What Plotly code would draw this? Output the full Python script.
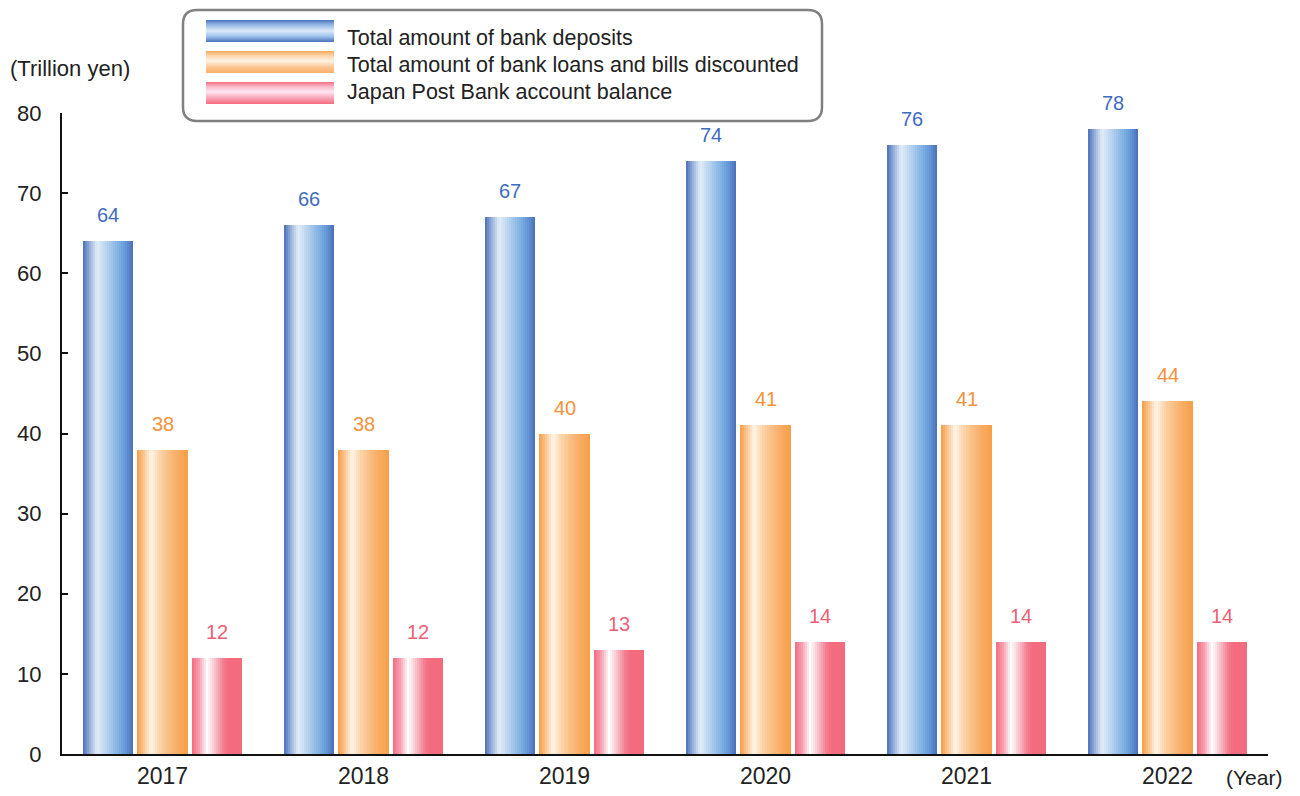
import plotly.graph_objects as go

# ---------------- data ----------------
years = ["2017", "2018", "2019", "2020", "2021", "2022"]
deposits = [64, 66, 67, 74, 76, 78]
loans = [38, 38, 40, 41, 41, 44]
postbank = [12, 12, 13, 14, 14, 14]
series_names = [
    "Total amount of bank deposits",
    "Total amount of bank loans and bills discounted",
    "Japan Post Bank account balance",
]
y_ticks = [0, 10, 20, 30, 40, 50, 60, 70, 80]

# ---------------- style ----------------
FONT = "Liberation Sans, Arial, sans-serif"
TXT = "#222222"
label_colors = ["#3F6BBE", "#F5913A", "#EE5F76"]
gradients = [
    [(0.0, "#4A6EB9"), (0.12, "#8EA9D6"), (0.28, "#E2EDF8"), (0.45, "#BCD5F0"),
     (0.70, "#80B2E3"), (0.86, "#6295D5"), (1.0, "#4A6EB9")],
    [(0.0, "#F79C45"), (0.13, "#FBC48D"), (0.28, "#FFF4E8"), (0.50, "#FBCB9A"),
     (0.75, "#F9B06A"), (1.0, "#F79D47")],
    [(0.0, "#F36B80"), (0.15, "#F7A2B1"), (0.30, "#FFFFFF"), (0.45, "#F9C6CF"),
     (0.62, "#F37F92"), (0.72, "#F36B7F"), (1.0, "#F36B7F")],
]
legend_gradients = [
    [(0.0, "#4A70BE"), (0.2, "#8FB3E3"), (0.5, "#DCEAF8"), (0.75, "#9CC0EA"), (1.0, "#4A70BE")],
    [(0.0, "#F9A85A"), (0.2, "#FCD2A8"), (0.45, "#FFF3E6"), (0.75, "#FCC48E"), (1.0, "#F9AE66")],
    [(0.0, "#F36B80"), (0.2, "#F9B6C6"), (0.45, "#FFE6F2"), (0.75, "#F7A0B2"), (1.0, "#F36B80")],
]
bar_w = 0.25
offsets = [-0.395, -0.125, 0.145]
N = 25

# the page body has an 8px margin; size the figure so it fits the window
OFF = 8
W, H = 1300 - OFF, 796 - OFF
ML, MR, MT, MB = 62 - OFF, 32, 113 - OFF, 42
PW, PH = W - ML - MR, H - MT - MB


def hex2rgb(h):
    h = h.lstrip("#")
    return tuple(int(h[i:i + 2], 16) for i in (0, 2, 4))


def grad(stops, t):
    for (p0, c0), (p1, c1) in zip(stops[:-1], stops[1:]):
        if p0 <= t <= p1:
            f = 0 if p1 == p0 else (t - p0) / (p1 - p0)
            a, b = hex2rgb(c0), hex2rgb(c1)
            r = [round(a[k] + (b[k] - a[k]) * f) for k in range(3)]
            return "rgb(%d,%d,%d)" % tuple(r)
    return stops[-1][1]


def px_x(p):  # window pixel -> paper x
    return (p - OFF - ML) / PW


def px_y(p):  # window pixel -> paper y
    return (OFF + H - MB - p) / PH


fig = go.Figure()
values = [deposits, loans, postbank]
for s in range(3):
    for i in range(N):
        t = (i + 0.5) / N
        w = bar_w / N * (1.0 if i == N - 1 else 1.1)
        fig.add_trace(go.Bar(
            x=years, y=values[s], offset=offsets[s] + i * bar_w / N, width=w,
            marker=dict(color=grad(gradients[s], t), line=dict(width=0)),
            showlegend=False, hoverinfo="skip",
        ))

annotations = []
# value labels
for s in range(3):
    for j, yr in enumerate(years):
        annotations.append(dict(
            x=j + offsets[s] + bar_w / 2, y=values[s][j], xref="x", yref="y",
            text=str(values[s][j]), showarrow=False, yshift=26,
            yanchor="middle", xanchor="center",
            font=dict(family=FONT, size=20, color=label_colors[s]),
        ))

annotations.append(dict(x=px_x(8), y=px_y(68), xref="paper", yref="paper",
                        text="(Trillion yen)", showarrow=False, xanchor="left",
                        yanchor="middle", font=dict(family=FONT, size=22, color=TXT)))
annotations.append(dict(x=px_x(1224), y=px_y(777), xref="paper", yref="paper",
                        text="(Year)", showarrow=False, xanchor="left",
                        yanchor="middle", font=dict(family=FONT, size=21, color=TXT)))

# manual legend
shapes = []
x0, x1, y0, y1, r = 183, 822, 10, 121, 14
X = lambda p: px_x(p)
Y = lambda p: px_y(p)
path = (f"M {X(x0+r)},{Y(y0)} L {X(x1-r)},{Y(y0)} Q {X(x1)},{Y(y0)} {X(x1)},{Y(y0+r)} "
        f"L {X(x1)},{Y(y1-r)} Q {X(x1)},{Y(y1)} {X(x1-r)},{Y(y1)} "
        f"L {X(x0+r)},{Y(y1)} Q {X(x0)},{Y(y1)} {X(x0)},{Y(y1-r)} "
        f"L {X(x0)},{Y(y0+r)} Q {X(x0)},{Y(y0)} {X(x0+r)},{Y(y0)} Z")
shapes.append(dict(type="path", path=path, xref="paper", yref="paper",
                   line=dict(color="#808080", width=2.5), fillcolor="white", layer="above"))
sw_x0, sw_x1 = 206, 334
row_tops = [20, 51, 82]
text_centers = [38, 65, 92]
sw_h = 22
for s in range(3):
    for k in range(sw_h):
        t = (k + 0.5) / sw_h
        shapes.append(dict(type="rect", xref="paper", yref="paper",
                           x0=X(sw_x0), x1=X(sw_x1),
                           y0=Y(row_tops[s] + k), y1=Y(row_tops[s] + k + 1.1),
                           line=dict(width=0), fillcolor=grad(legend_gradients[s], t),
                           layer="above"))
    annotations.append(dict(x=X(345), y=Y(text_centers[s]), xref="paper", yref="paper",
                            text=series_names[s], showarrow=False, xanchor="left",
                            yanchor="middle",
                            font=dict(family=FONT, size=21.5, color=TXT)))

fig.update_layout(
    width=W, height=H, margin=dict(l=ML, r=MR, t=MT, b=MB),
    paper_bgcolor="white", plot_bgcolor="white",
    barmode="overlay", bargap=0, showlegend=False,
    font=dict(family=FONT, color=TXT),
    xaxis=dict(type="category", range=[-0.5, 5.5], showgrid=False, zeroline=False,
               showline=True, linecolor="#111111", linewidth=2, ticks="",
               automargin=False, tickfont=dict(size=23, color=TXT)),
    yaxis=dict(range=[0, 80], tickvals=y_ticks, showgrid=False, zeroline=False,
               showline=True, linecolor="#111111", linewidth=2, ticks="inside",
               ticklen=6, tickwidth=2, tickcolor="#111111", ticklabelstandoff=14,
               automargin=False, tickfont=dict(size=22, color=TXT)),
    annotations=annotations, shapes=shapes,
)

fig.write_html("out.html")
